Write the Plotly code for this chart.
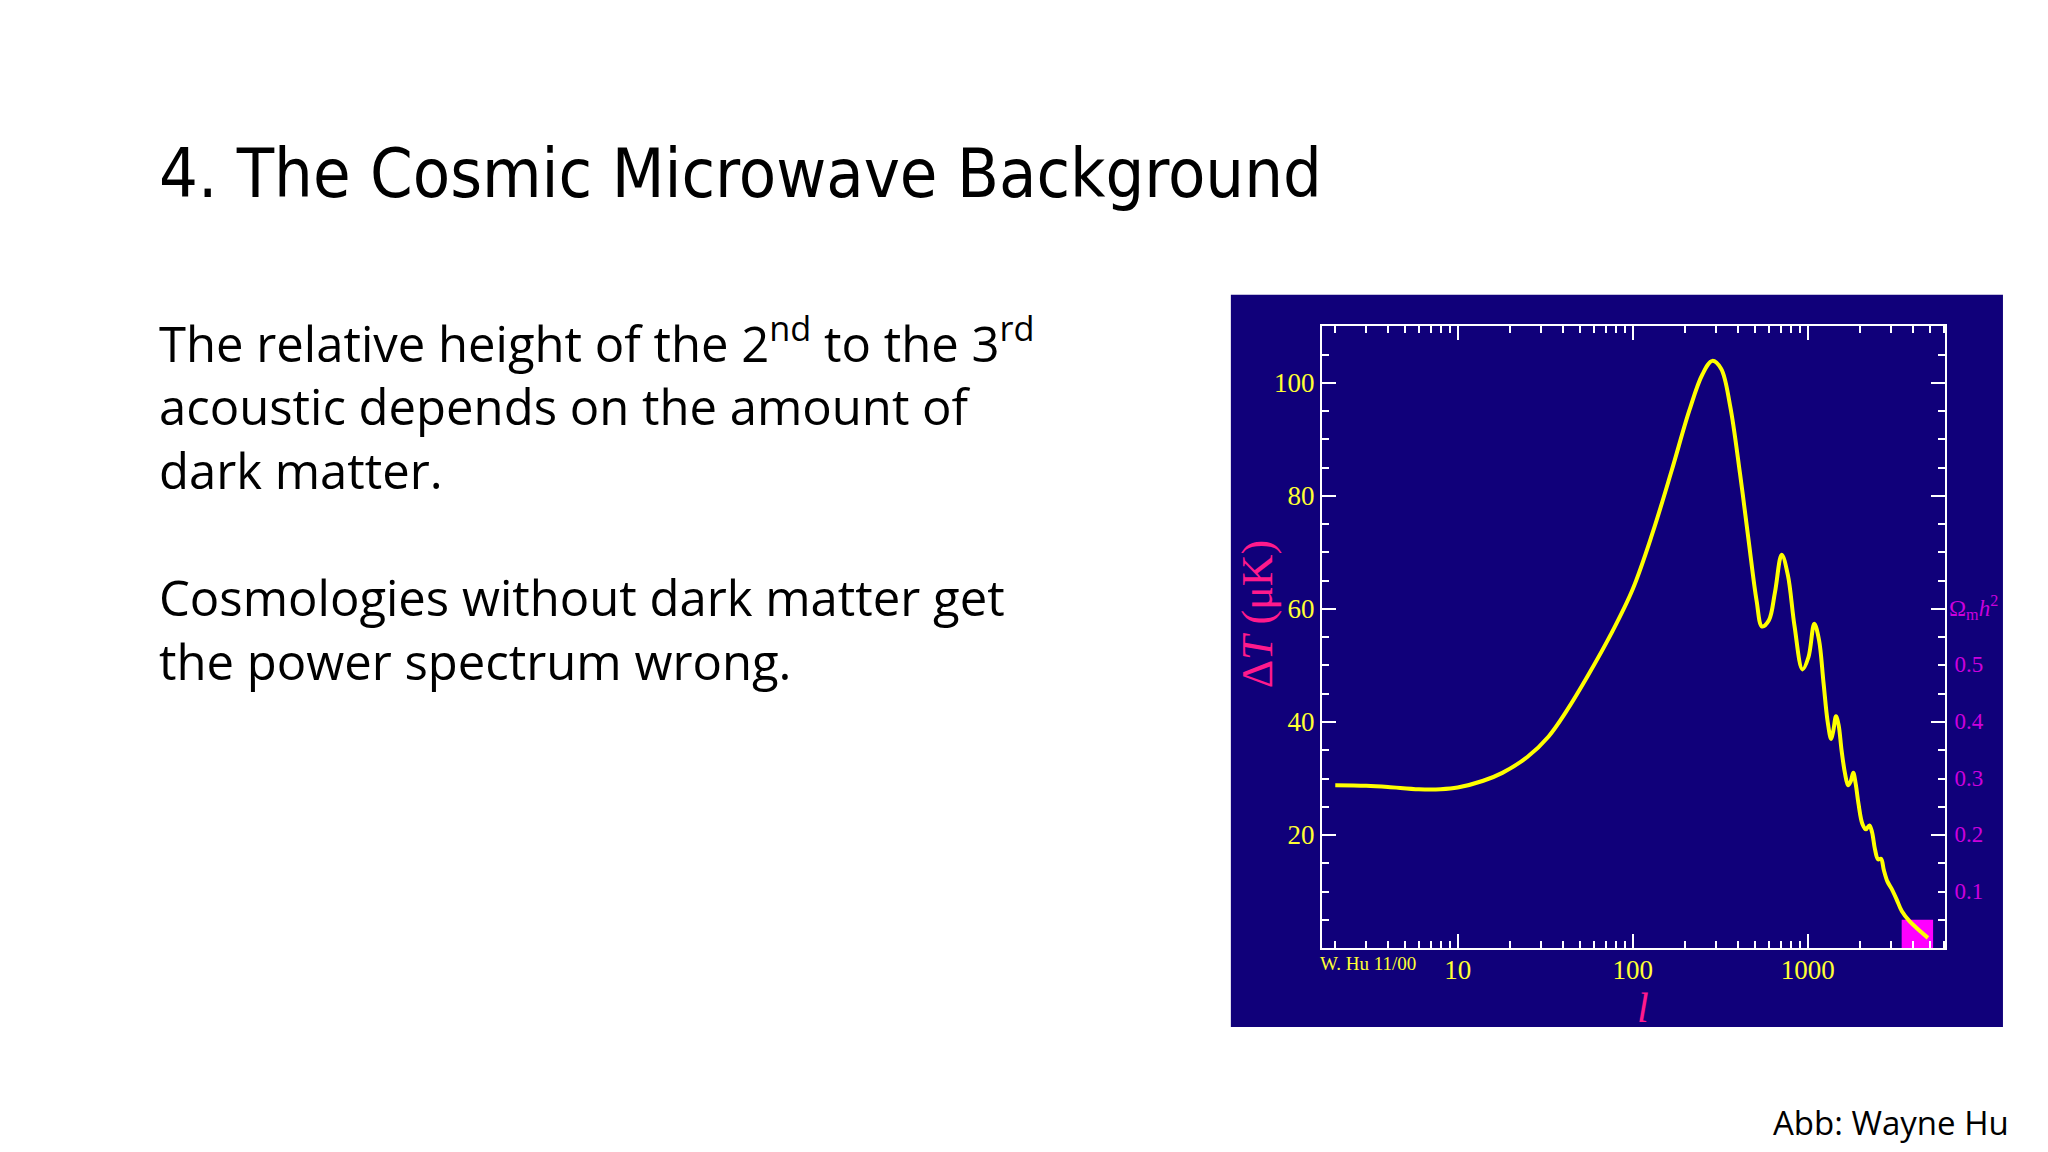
import plotly.graph_objects as go

ell = [2, 3, 4, 6, 8, 10, 14, 18, 25, 33, 42, 55, 75, 100, 130, 167, 210, 250, 285, 320, 360, 410, 460, 510, 548, 600, 650, 710, 770, 840, 933, 1010, 1090, 1160, 1230, 1300, 1360, 1400, 1450, 1500, 1560, 1630, 1700, 1760, 1820, 1880, 1950, 2050, 2150, 2250, 2330, 2420, 2520, 2620, 2720, 2850, 3000, 3200, 3450, 3800, 4200, 4860]
dT = [28.8, 28.7, 28.5, 28.1, 28.1, 28.4, 29.6, 31.0, 33.8, 37.4, 42.0, 48.0, 55.5, 63.5, 73.5, 84.5, 95.0, 101.5, 103.9, 102.5, 96.0, 84.0, 72.0, 61.5, 56.9, 58.0, 63.0, 69.6, 66.0, 57.0, 49.3, 51.5, 57.4, 54.5, 47.0, 40.0, 37.0, 38.5, 41.0, 39.5, 35.0, 31.0, 28.8, 29.5, 31.0, 29.0, 25.5, 22.0, 21.0, 21.7, 20.5, 17.5, 15.7, 15.8, 13.8, 11.8, 10.6, 8.8, 6.5, 4.8, 3.5, 1.8]

y_major = [20, 40, 60, 80, 100]
x_major = [10, 100, 1000]
x_minor = [m * 10**k for k in range(0, 4) for m in range(2, 10) if 1.6 < m * 10**k < 6100]
omega_ticks = [0.1, 0.2, 0.3, 0.4, 0.5]
box_x = [3440, 5200]
box_y = [0, 5]

serif = "Liberation Serif, DejaVu Serif, serif"
dx, dy = -0.0039, 0.007
fig = go.Figure()
fig.add_trace(go.Scatter(x=[box_x[0], box_x[1], box_x[1], box_x[0], box_x[0]],
                         y=[box_y[0], box_y[0], box_y[1], box_y[1], box_y[0]],
                         fill="toself", fillcolor="#ff00ff", line=dict(width=0),
                         mode="lines", hoverinfo="skip", showlegend=False))
fig.add_trace(go.Scatter(x=ell, y=dT, mode="lines", line=dict(color="#ffff00", width=4, shape="spline", smoothing=1.0), showlegend=False))
fig.add_trace(go.Scatter(x=[100], y=[0.5], yaxis="y2", mode="markers", marker=dict(opacity=0), showlegend=False, hoverinfo="skip"))

fx0, fx1 = 0.6454 + dx, 0.9497 + dx
fy0, fy1 = 0.177 + dy, 0.7166 + dy
fig.update_layout(
    width=2048, height=1152, margin=dict(l=0, r=0, t=0, b=0),
    paper_bgcolor="white", plot_bgcolor="#10007a",
    xaxis=dict(type="log", domain=[fx0, fx1], range=[0.224, 3.784], tickvals=x_major,
               ticktext=["10", "100", "1000"], ticks="inside", ticklen=14, tickwidth=2, tickcolor="white",
               linecolor="white", linewidth=2, mirror="ticks", showgrid=False, zeroline=False,
               ticklabelstandoff=-3,
               minor=dict(tickvals=x_minor, ticks="inside", ticklen=7, tickwidth=2, tickcolor="white", showgrid=False),
               tickfont=dict(family=serif, size=27, color="#ffff33")),
    yaxis=dict(domain=[fy0, fy1], range=[0, 110], tickvals=y_major, ticks="inside", ticklen=14, tickwidth=2,
               tickcolor="white", linecolor="white", linewidth=2, mirror="ticks", showgrid=False, zeroline=False,
               minor=dict(dtick=5, ticks="inside", ticklen=7, tickwidth=2, tickcolor="white", showgrid=False),
               tickfont=dict(family=serif, size=27, color="#ffff33")),
    yaxis2=dict(overlaying="y", side="right", range=[0, 1.094], tickvals=omega_ticks, ticks="outside",
                ticklen=4, tickcolor="rgba(0,0,0,0)",
                showgrid=False, zeroline=False, showline=False,
                tickfont=dict(family=serif, size=23, color="#cc00dd")),
    shapes=[dict(type="rect", xref="paper", yref="paper", x0=0.601 + dx, x1=0.978 + dx, y0=0.1085 + dy, y1=0.744 + dy,
                 fillcolor="#10007a", line=dict(width=0), layer="below")],
    annotations=[
        dict(text="4. The Cosmic Microwave Background", xref="paper", yref="paper", x=157/2048 + dx, y=1-174/1152 + dy,
             xanchor="left", yanchor="middle", showarrow=False,
             font=dict(family="DejaVu Sans Condensed, Roboto, sans-serif", size=68, color="black")),
        dict(text="The relative height of the 2<sup>nd</sup> to the 3<sup>rd</sup><br>acoustic depends on the amount of<br>dark matter.<br><br>Cosmologies without dark matter get<br>the power spectrum wrong.",
             xref="paper", yref="paper", x=157/2048 + dx, y=1-302/1152 + dy, xanchor="left", yanchor="top", align="left",
             showarrow=False, font=dict(family="Open Sans, Lato, sans-serif", size=49, color="black")),
        dict(text="Abb: Wayne Hu", xref="paper", yref="paper", x=2011/2048 + dx, y=1-1123/1152 + dy, xanchor="right", yanchor="middle",
             showarrow=False, font=dict(family="Open Sans, sans-serif", size=33, color="black")),
        dict(text="Ω<sub>m</sub><i>h</i><sup>2</sup>", xref="paper", yref="y2", x=fx1 + 0.001, y=0.6, xanchor="left",
             yanchor="middle", showarrow=False, font=dict(family=serif, size=23, color="#cc00dd")),
        dict(text="W. Hu 11/00", xref="paper", yref="paper", x=fx0 - 0.002, y=fy0 - 0.003, xanchor="left", yanchor="top",
             showarrow=False, font=dict(family=serif, size=19, color="#ffff33")),
        dict(text="<i>l</i>", xref="paper", yref="paper", x=1643/2048 + dx, y=1-1008/1152 + dy, xanchor="center", yanchor="middle",
             showarrow=False, font=dict(family=serif, size=42, color="#ff1a8c")),
        dict(text="Δ<i>T</i> (μK)", xref="paper", yref="paper", x=1257/2048 + dx, y=(fy0+fy1)/2 + 0.02, textangle=-90,
             xanchor="center", yanchor="middle", showarrow=False, font=dict(family=serif, size=44, color="#ff1a8c")),
    ],
)
fig.write_html("out.html")
